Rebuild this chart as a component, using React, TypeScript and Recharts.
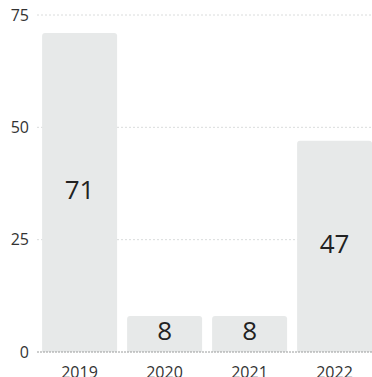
import { BarChart, Bar, XAxis, YAxis, CartesianGrid, LabelList, ReferenceLine } from "recharts";

const years = ["2019", "2020", "2021", "2022"];
const counts = [71, 8, 8, 47];
const yTicks = [0, 25, 50, 75];

const data = years.map((year, i) => ({ year, count: counts[i] }));

const font = "'Open Sans', 'Noto Sans', sans-serif";

export default function App() {
  return (
    <div
      style={{
        position: "fixed",
        left: 0,
        top: 0,
        width: 372,
        height: 377,
        overflow: "hidden",
        background: "#fff",
        fontFamily: font,
      }}
    >
      <BarChart
        width={377}
        height={377}
        data={data}
        margin={{ top: 15, right: 0, bottom: 0, left: 0 }}
        barCategoryGap="6%"
      >
        <CartesianGrid
          vertical={false}
          horizontalValues={[25, 50, 75]}
          stroke="#dadcdc"
          strokeDasharray="2 2"
        />
        <XAxis
          dataKey="year"
          axisLine={false}
          tickLine={false}
          height={25}
          tickMargin={9}
          tick={{ fill: "#333", fontSize: 16, fontFamily: font }}
        />
        <YAxis
          domain={[0, 75]}
          ticks={yTicks}
          axisLine={false}
          tickLine={false}
          width={37}
          tickMargin={2}
          tick={{ fill: "#333", fontSize: 16, fontFamily: font }}
        />
        <ReferenceLine y={0} stroke="#9a9c9c" strokeDasharray="2 1" />
        <Bar dataKey="count" fill="#e7e9e9" radius={[3, 3, 0, 0]} isAnimationActive={false}>
          <LabelList
            dataKey="count"
            position="center"
            fill="#222"
            fontSize={26}
            fontFamily={font}
            dy={-3}
          />
        </Bar>
      </BarChart>
    </div>
  );
}
